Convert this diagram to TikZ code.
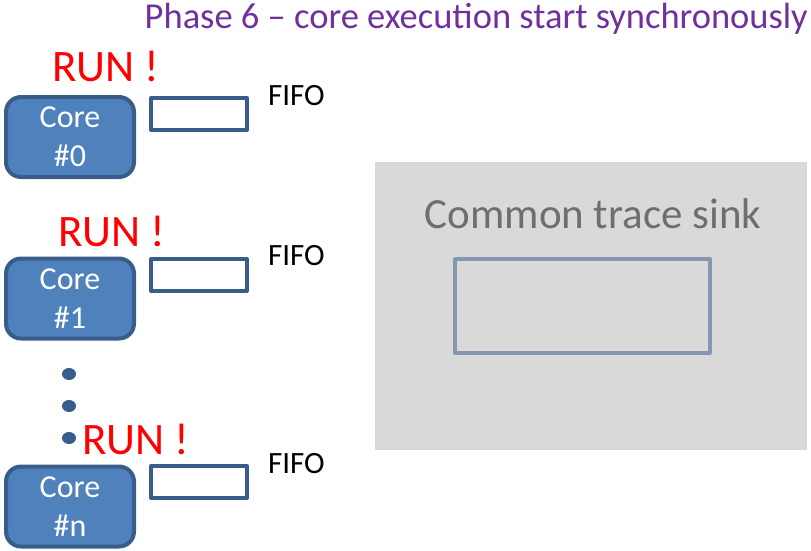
\documentclass[tikz,border=0pt]{standalone}
\usepackage{fontspec}
\setmainfont{Carlito}
\usepackage{tikz}
\usetikzlibrary{shapes.geometric}
\definecolor{coreblue}{RGB}{79,129,189}
\definecolor{coreedge}{RGB}{56,93,138}
\definecolor{sinkgray}{RGB}{217,217,217}
\definecolor{sinkedge}{RGB}{132,151,176}
\definecolor{sinktext}{RGB}{110,110,110}
\definecolor{phasepurple}{RGB}{112,48,160}

\begin{document}
\begin{tikzpicture}[x=1pt, y=-1pt, line join=round,
  corebox/.style={draw=coreedge, line width=4pt, fill=coreblue, rounded corners=15pt,
    minimum width=128pt, minimum height=80pt, align=center, text=white,
    font=\fontsize{32}{39}\selectfont, inner sep=0pt},
  fifobox/.style={draw=coreedge, line width=4pt, fill=white, minimum width=96pt, minimum height=32pt, inner sep=0pt},
  fifolabel/.style={anchor=base west, inner sep=0pt, font=\fontsize{31}{37}\selectfont},
  runlabel/.style={anchor=base west, inner sep=0pt, text=red, font=\fontsize{45}{54}\selectfont},
  dotnode/.style={ellipse, fill=coreedge, minimum width=14pt, minimum height=12pt, inner sep=0pt}]
\useasboundingbox (0,0) rectangle (811,550);

\node[anchor=base east, inner sep=0pt, text=phasepurple, font=\fontsize{36.5}{44}\selectfont] (title) at (808,28) {Phase 6 -- core execution start synchronously};

\node[fill=sinkgray, minimum width=432pt, minimum height=288pt, inner sep=0pt] (sink) at (591,306) {};
\node[anchor=base, inner sep=0pt, text=sinktext, font=\fontsize{43}{52}\selectfont] (sinklabel) at (593,228) {Common trace sink};
\node[draw=sinkedge, line width=4pt, minimum width=255pt, minimum height=94pt, inner sep=0pt] (sinkbuf) at (582.5,306) {};

\node[runlabel] (run0) at (52,81) {RUN !};
\node[corebox] (core0) at (70,137) {Core\\\#0};
\node[fifobox] (fifo0) at (199,114) {};
\node[fifolabel] (fifolabel0) at (268,105) {FIFO};

\node[runlabel] (run1) at (58,246) {RUN !};
\node[corebox] (core1) at (70,298.5) {Core\\\#1};
\node[fifobox] (fifo1) at (199,275) {};
\node[fifolabel] (fifolabel1) at (268,265) {FIFO};

\node[dotnode] (dot1) at (69,374) {};
\node[dotnode] (dot2) at (69,406) {};
\node[dotnode] (dot3) at (69,438) {};

\node[runlabel] (runn) at (82,454) {RUN !};
\node[corebox] (coren) at (70,506.5) {Core\\\#n};
\node[fifobox] (fifon) at (199,482) {};
\node[fifolabel] (fifolabeln) at (268,473) {FIFO};
\end{tikzpicture}
\end{document}
